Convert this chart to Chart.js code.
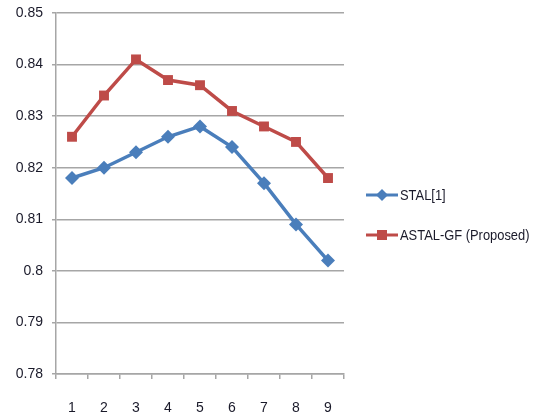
<!DOCTYPE html>
<html>
<head>
<meta charset="utf-8">
<script src="https://cdn.jsdelivr.net/npm/chart.js@4/dist/chart.umd.min.js"></script>
<style>
  html, body { margin: 0; padding: 0; background: #fff; }
  #wrap { width: 534px; height: 418px; position: relative; }
</style>
</head>
<body>
<div id="wrap"><canvas id="myChart" width="534" height="418"></canvas></div>
<script>
'use strict'

var labels = ['1', '2', '3', '4', '5', '6', '7', '8', '9'];
var stal = [0.818, 0.820, 0.823, 0.826, 0.828, 0.824, 0.817, 0.809, 0.802];
var astalGf = [0.826, 0.834, 0.841, 0.837, 0.836, 0.831, 0.828, 0.825, 0.818];
var seriesNames = ['STAL[1]', 'ASTAL-GF (Proposed)'];

var blue = '#4a7ebb';
var red = '#be4b48';
var gridCol = '#a6a6a6';
var textCol = '#1a1a2a';
var tickFont = { family: "'Liberation Sans', Arial, sans-serif", size: 14 };

// legend on the right: line + marker + text, like the office style one
var sideLegend = {
    id: 'sideLegend',
    afterDraw: function (chart) {
        var ctx = chart.ctx;
        var rows = [195, 235];
        chart.data.datasets.forEach(function (ds, i) {
            var y = rows[i];
            ctx.save();
            ctx.strokeStyle = ds.borderColor;
            ctx.lineWidth = 3;
            ctx.beginPath();
            ctx.moveTo(366, y);
            ctx.lineTo(398, y);
            ctx.stroke();
            ctx.fillStyle = ds.backgroundColor;
            if (ds.pointStyle === 'rectRot') {
                ctx.beginPath();
                ctx.moveTo(382, y - 6);
                ctx.lineTo(388, y);
                ctx.lineTo(382, y + 6);
                ctx.lineTo(376, y);
                ctx.closePath();
                ctx.fill();
            } else {
                ctx.fillRect(377, y - 5, 10, 10);
            }
            ctx.fillStyle = textCol;
            ctx.font = "15px 'Liberation Sans', Arial, sans-serif";
            ctx.textBaseline = 'middle';
            // squeeze text a bit, the original font is a narrow one
            var w = ctx.measureText(ds.label).width * 0.86;
            ctx.fillText(ds.label, 400, y + 1, w);
            ctx.restore();
        });
    }
};

var ctx = document.getElementById('myChart').getContext('2d');

var myChart = new Chart(ctx, {
    type: 'line',
    data: {
        labels: labels,
        datasets: [
        {
            label: seriesNames[0],
            data: stal,
            borderColor: blue,
            backgroundColor: blue,
            borderWidth: 3.5,
            pointStyle: 'rectRot',
            pointRadius: 7,
            pointBorderWidth: 0,
            tension: 0
        },
        {
            label: seriesNames[1],
            data: astalGf,
            borderColor: red,
            backgroundColor: red,
            borderWidth: 3.5,
            pointStyle: 'rect',
            pointRadius: 7,
            pointBorderWidth: 0,
            tension: 0
        }]
    },
    plugins: [sideLegend],
    options: {
        responsive: false,
        animation: false,
        layout: { padding: { top: 13, right: 190, left: 0, bottom: 0 } },
        plugins: {
            legend: { display: false },
            tooltip: { enabled: false }
        },
        scales: {
            x: {
                offset: true,
                grid: {
                    offset: true,
                    drawOnChartArea: false,
                    drawTicks: true,
                    tickLength: 5,
                    color: gridCol,
                    lineWidth: 1.5
                },
                border: { color: gridCol, width: 1.5 },
                ticks: { color: textCol, font: tickFont, padding: 21, maxRotation: 0 },
                afterFit: function (scale) { scale.height = 44; }
            },
            y: {
                min: 0.78,
                max: 0.85,
                grid: {
                    color: gridCol,
                    lineWidth: 1.5,
                    tickLength: 4
                },
                border: { color: gridCol, width: 1.5 },
                ticks: {
                    stepSize: 0.01,
                    color: textCol,
                    font: tickFont,
                    padding: 9,
                    callback: function (v) { return Math.round(v * 100) / 100; }
                },
                afterFit: function (scale) {
                    scale.width = 56;
                    scale.paddingTop = 0;
                    scale.paddingBottom = 0;
                }
            }
        }
    }
});
</script>
</body>
</html>
